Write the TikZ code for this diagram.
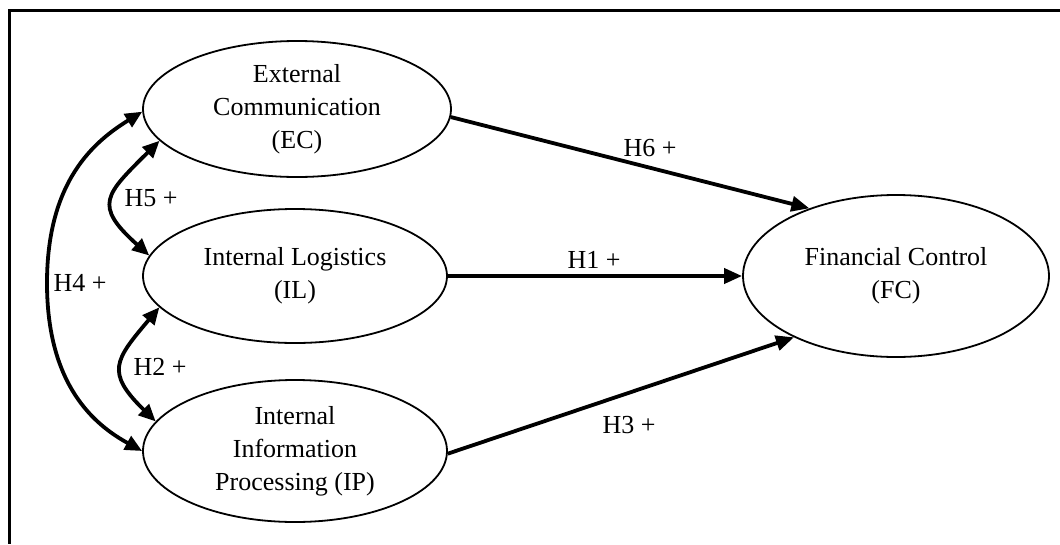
\documentclass[tikz,border=0pt]{standalone}
\usepackage{fontspec}
\setmainfont{Liberation Serif}
\usetikzlibrary{shapes.geometric,arrows.meta}
\begin{document}
\begin{tikzpicture}[x=1pt,y=-1pt,
  construct/.style={ellipse,draw,line width=1.8pt,inner sep=0pt,align=center,
    font=\fontsize{26}{33}\selectfont},
  lbl/.style={inner sep=0pt,font=\fontsize{26}{33}\selectfont},
  path arrow/.style={line width=3.8pt,-{Triangle[length=18pt,width=15pt]}},
  dbl arrow/.style={line width=3.8pt,{Triangle[length=17pt,width=15pt]}-{Triangle[length=17pt,width=15pt]}}]
\useasboundingbox (0,0) rectangle (1060,544);
% frame
\draw[line width=3pt] (1060,10.5) -- (9.5,10.5) -- (9.5,544);
% constructs
\node[construct,minimum width=308pt,minimum height=136pt] (EC) at (297,109) {External\\Communication\\(EC)};
\node[construct,minimum width=304pt,minimum height=134pt] (IL) at (295,276) {Internal Logistics\\(IL)};
\node[construct,minimum width=304pt,minimum height=142pt] (IP) at (295,451) {Internal\\Information\\Processing (IP)};
\node[construct,minimum width=306pt,minimum height=162pt] (FC) at (896,276) {Financial Control\\(FC)};
% paths
\draw[path arrow] (EC.-3) -- (FC.142.6);
\draw[path arrow] (IL.east) -- (FC.west);
\draw[path arrow] (IP.-1) -- (FC.211.9);
% correlations
\draw[dbl arrow] (EC.193.4) .. controls (105,195) and (93,205) .. (IL.172.3);
\draw[dbl arrow] (IL.193.9) .. controls (115,360) and (105,372) .. (IP.168.8);
\draw[dbl arrow] (EC.181.5) .. controls (95,141) and (47,180) .. (47,283)
  .. controls (47,386) and (95,425) .. (IP.180);
% labels
\node[lbl] (h6) at (650,148) {H6 +};
\node[lbl] (h1) at (594,260) {H1 +};
\node[lbl] (h3) at (629,425) {H3 +};
\node[lbl] (h4) at (80,283) {H4 +};
\node[lbl] (h5) at (151,198) {H5 +};
\node[lbl] (h2) at (160,367) {H2 +};
\end{tikzpicture}
\end{document}
